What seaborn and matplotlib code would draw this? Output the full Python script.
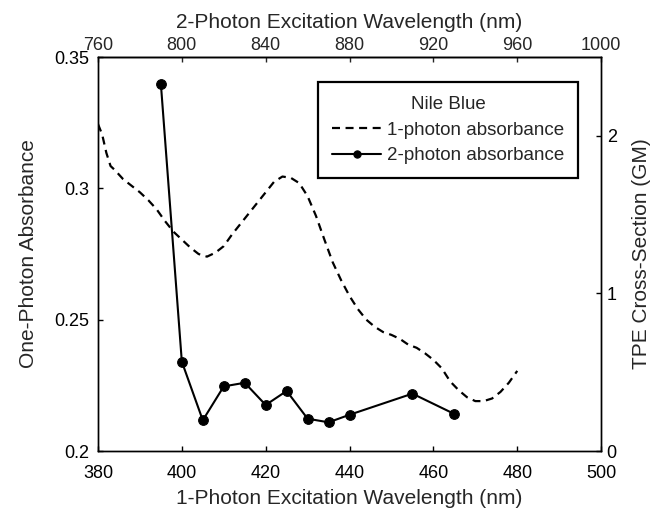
"""Nile Blue one- and two-photon absorbance."""
import matplotlib
matplotlib.use('Agg')
import matplotlib.pyplot as plt
import matplotlib.ticker as mticker
import pandas as pd
import seaborn as sns

sns.set_style('ticks')
plt.rcParams['font.family'] = ['Liberation Sans', 'DejaVu Sans']

# 1-photon absorbance curve (nm, absorbance)
wl_1p = [380, 381, 382, 383, 384, 386, 388, 390, 392, 394, 396, 398, 400,
         402, 404, 406, 408, 410, 412, 414, 416, 418, 420, 422, 424, 426,
         428, 430, 432, 434, 436, 438, 440, 442, 444, 446, 448, 450, 452,
         454, 456, 458, 460, 462, 464, 466, 468, 470, 472, 474, 476, 478, 480]
abs_1p = [0.3245, 0.3205, 0.3135, 0.3085, 0.307, 0.3035, 0.301, 0.2985,
          0.2955, 0.292, 0.2875, 0.2835, 0.2805, 0.2775, 0.275, 0.274,
          0.2755, 0.278, 0.2825, 0.2865, 0.2905, 0.2945, 0.2985, 0.3025,
          0.3045, 0.304, 0.302, 0.297, 0.2895, 0.2805, 0.2718, 0.265, 0.259,
          0.254, 0.250, 0.2473, 0.2453, 0.2442, 0.2427, 0.2405, 0.2393,
          0.2372, 0.2347, 0.2315, 0.2265, 0.2232, 0.2205, 0.219, 0.219,
          0.220, 0.2225, 0.226, 0.2305]

# 2-photon cross-section (nm on the 1-photon scale, GM)
wl_2p = [395, 400, 405, 410, 415, 420, 425, 430, 435, 440, 455, 465]
gm_2p = [2.33, 0.567, 0.195, 0.41, 0.433, 0.292, 0.381, 0.205, 0.182, 0.23,
         0.364, 0.235]

df1 = pd.DataFrame({'wl': wl_1p, 'val': abs_1p})
df2 = pd.DataFrame({'wl': wl_2p, 'val': gm_2p})

fig = plt.figure(figsize=(6.62, 5.11), dpi=100)
ax = fig.add_axes([0.148, 0.1174, 0.760, 0.771])
ax2 = ax.twinx()

sns.lineplot(data=df1, x='wl', y='val', ax=ax, color='black', lw=1.6,
             linestyle=(0, (3.6, 2.5)),
             label='1-photon absorbance', legend=False)
sns.lineplot(data=df2, x='wl', y='val', ax=ax2, color='black', lw=1.5,
             marker='o', markersize=7, markeredgecolor='black',
             label='2-photon absorbance', legend=False)

ax.set_xlim(380, 500)
ax.set_ylim(0.2, 0.35)
ax.set_xticks([380, 400, 420, 440, 460, 480, 500])
ax.set_yticks([0.2, 0.25, 0.3, 0.35])
ax.yaxis.set_major_formatter(mticker.FormatStrFormatter('%g'))
ax2.set_ylim(0, 2.5)
ax2.set_yticks([0, 1, 2])

fs_tick = 13
fs_lab = 15
ax.set_xlabel('1-Photon Excitation Wavelength (nm)', fontsize=fs_lab,
              labelpad=5)
ax.set_ylabel('One-Photon Absorbance', fontsize=fs_lab, labelpad=12)
ax2.set_ylabel('TPE Cross-Section (GM)', fontsize=fs_lab, labelpad=11)
ax2.set_xlabel('')

top = ax.secondary_xaxis('top', functions=(lambda x: x * 2,
                                           lambda x: x / 2))
top.set_xticks([760, 800, 840, 880, 920, 960, 1000])
top.set_xlabel('2-Photon Excitation Wavelength (nm)', fontsize=fs_lab,
               labelpad=6)

ax.tick_params(axis='x', direction='in', length=3.5, width=1,
               labelsize=fs_tick, pad=10, colors='black')
ax.tick_params(axis='y', direction='in', length=3.5, width=1,
               labelsize=fs_tick, pad=6, colors='black')
ax2.tick_params(axis='y', direction='in', length=3.5, width=1,
                labelsize=fs_tick, pad=4, colors='black')
top.tick_params(direction='in', length=3.5, width=1, labelsize=fs_tick,
                pad=2.5)
for a in (ax, ax2):
    for s in a.spines.values():
        s.set_visible(True)
        s.set_linewidth(1)
        s.set_color('black')
top.spines['top'].set_linewidth(1)

h1, l1 = ax.get_legend_handles_labels()
h2, l2 = ax2.get_legend_handles_labels()
leg = ax2.legend(h1 + h2, l1 + l2, title='Nile Blue', loc='upper right',
                 bbox_to_anchor=(0.954, 0.9365), borderaxespad=0,
                 fontsize=13.5, title_fontsize=13.5, fancybox=False,
                 framealpha=1, edgecolor='black', handlelength=2.6,
                 borderpad=0.75, labelspacing=0.45, handletextpad=0.3,
                 markerscale=0.75)
leg.get_frame().set_linewidth(1.6)

fig.savefig('out.png', dpi=100)
